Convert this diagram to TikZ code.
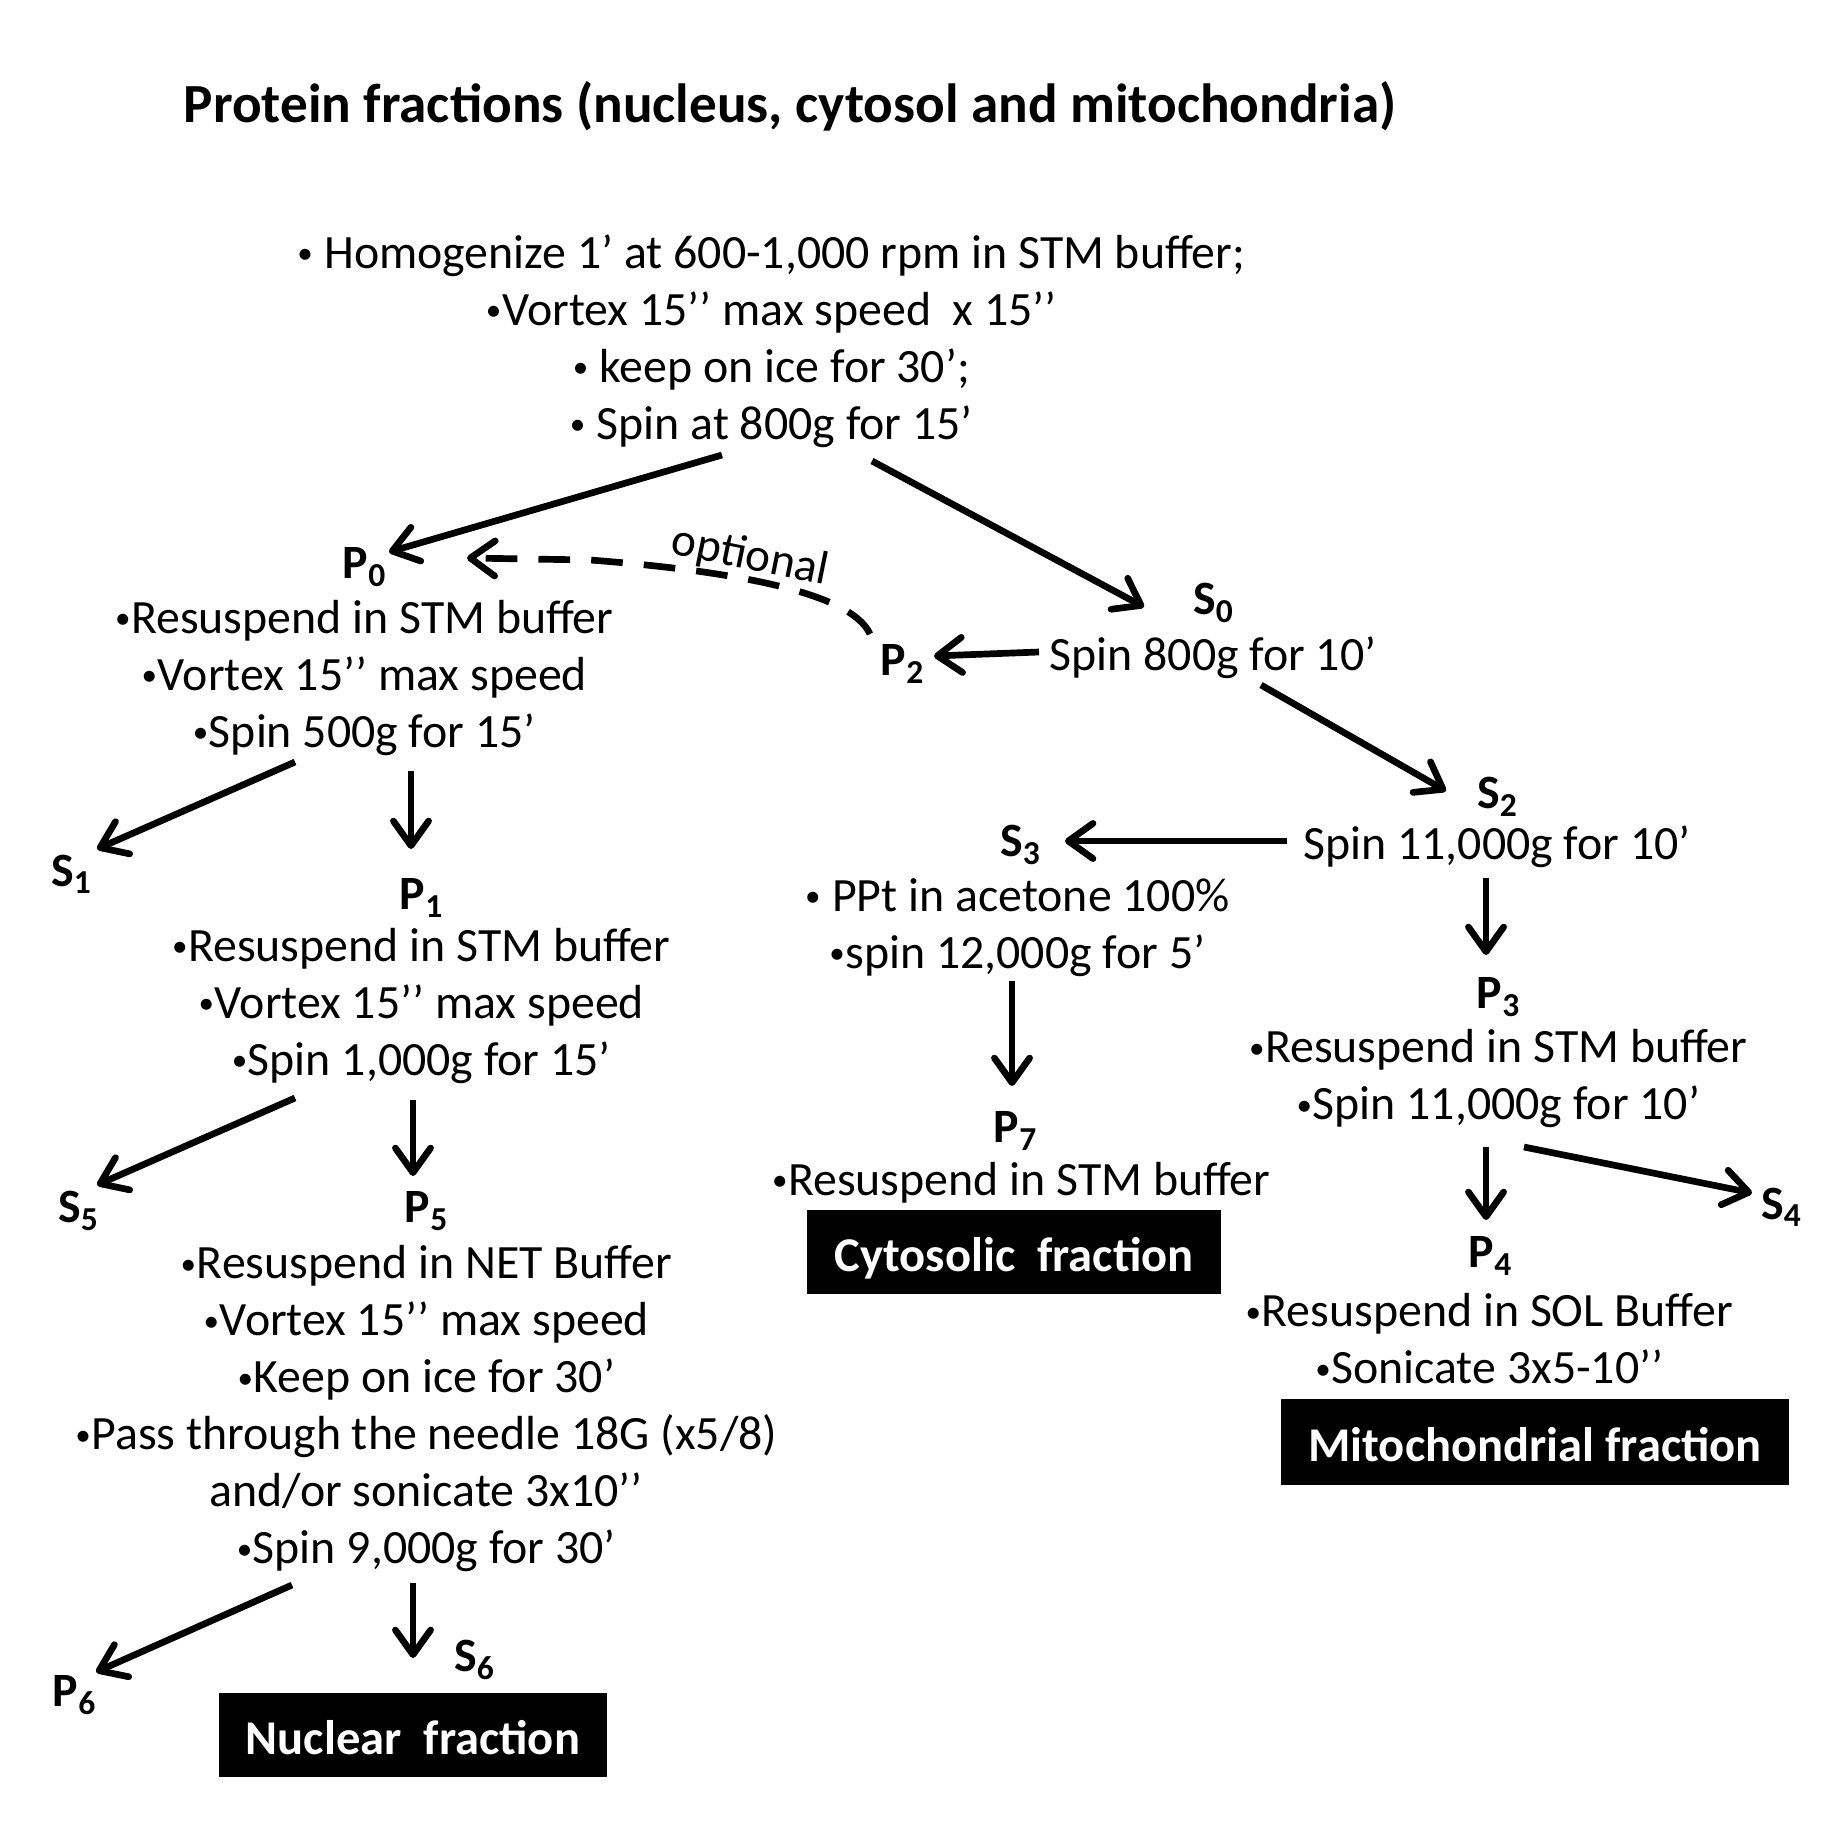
\documentclass[tikz,border=0pt]{standalone}
\usepackage{fontspec}
\usepackage{graphicx}
\setmainfont{Carlito}
\usetikzlibrary{arrows.meta}
\newcommand\mybul{\raisebox{0.1em}{\makebox[0.35em][c]{\scalebox{0.65}{•}}}}
\begin{document}
\begin{tikzpicture}[x=0.01cm,y=-0.01cm,
  txt/.style={inner sep=0pt,align=center,yshift=-1.1pt,font=\fontsize{13.6}{16.2}\selectfont},
  lbl/.style={inner sep=0pt,yshift=-0.6pt,font=\fontsize{13.6}{16.2}\selectfont\bfseries},
  fbox/.style={fill=black,text=white,inner sep=0pt,text height=10.8pt,text depth=0pt,font=\fontsize{13.8}{16}\selectfont\bfseries},
  arr/.style={line width=1.9pt,-{Straight Barb[length=7pt,width=10pt,round]}},
  darr/.style={line width=1.9pt,dash pattern=on 9pt off 6pt,-{Straight Barb[length=7pt,width=10pt,round]}}]
\useasboundingbox (0,0) rectangle (1831,1831);
\node[inner sep=0pt,yshift=-0.5pt,font=\fontsize{15.7}{18}\selectfont\bfseries] (title) at (790,105) {Protein fractions (nucleus, cytosol and mitochondria)};
% blocks
\node[txt] (A) at (771,337) {\mybul{} Homogenize 1’ at 600-1,000 rpm in STM buffer;\\\mybul Vortex 15’’ max speed\ \ x 15’’\\\mybul{} keep on ice for 30’;\\\mybul{} Spin at 800g for 15’};
\node[lbl] (P0) at (365,565) {P\textsubscript{0}};
\node[txt] (B0) at (364,674) {\mybul Resuspend in STM buffer\\\mybul Vortex 15’’ max speed\\\mybul Spin 500g for 15’};
\node[lbl] (S1) at (72,872) {S\textsubscript{1}};
\node[lbl] (P1) at (422,896) {P\textsubscript{1}};
\node[txt] (B1) at (421,1002) {\mybul Resuspend in STM buffer\\\mybul Vortex 15’’ max speed\\\mybul Spin 1,000g for 15’};
\node[lbl] (S5) at (79,1209) {S\textsubscript{5}};
\node[lbl] (P5) at (427,1209) {P\textsubscript{5}};
\node[txt] (B5) at (426,1405) {\mybul Resuspend in NET Buffer\\\mybul Vortex 15’’ max speed\\\mybul Keep on ice for 30’\\\mybul Pass through the needle 18G (x5/8)\\and/or sonicate 3x10’’\\\mybul Spin 9,000g for 30’};
\node[lbl] (P6) at (75,1693) {P\textsubscript{6}};
\node[lbl] (S6) at (475,1658) {S\textsubscript{6}};
\node[fbox,minimum width=3.87cm,minimum height=0.84cm] (NF) at (413,1735) {Nuclear\ \ fraction};
\node[lbl] (S0) at (1214,601) {S\textsubscript{0}};
\node[txt] (B0r) at (1213,654) {Spin 800g for 10’};
\node[lbl] (P2) at (903,662) {P\textsubscript{2}};
\node[lbl] (S2) at (1498,795) {S\textsubscript{2}};
\node[txt] (B2) at (1497,843) {Spin 11,000g for 10’};
\node[lbl] (S3) at (1021,843) {S\textsubscript{3}};
\node[txt] (B3) at (1017,924) {\mybul{} PPt in acetone 100\%\\\mybul spin 12,000g for 5’};
\node[lbl] (P7) at (1016,1129) {P\textsubscript{7}};
\node[txt] (B7) at (1021,1179) {\mybul Resuspend in STM buffer};
\node[fbox,minimum width=4.13cm,minimum height=0.84cm] (CF) at (1014,1252) {Cytosolic\ \ fraction};
\node[lbl] (P3) at (1499,995) {P\textsubscript{3}};
\node[txt] (B3r) at (1498,1075) {\mybul Resuspend in STM buffer\\\mybul Spin 11,000g for 10’};
\node[lbl] (S4) at (1782,1205) {S\textsubscript{4}};
\node[lbl] (P4) at (1491,1254) {P\textsubscript{4}};
\node[txt] (B4) at (1489,1335) {\mybul Resuspend in SOL Buffer\\\mybul Sonicate 3x5-10’’};
\node[fbox,minimum width=5.08cm,minimum height=0.85cm] (MF) at (1535,1442) {Mitochondrial fraction};
% connector end points
\coordinate (a1) at (722,455); \coordinate (p0e) at (389,552);
\coordinate (a2) at (872,461); \coordinate (s0e) at (1144,607);
\coordinate (p2s) at (870,634); \coordinate (p0d) at (467,558);
\coordinate (s0s) at (1039,652); \coordinate (p2e) at (934,656);
\coordinate (s0b) at (1261,685); \coordinate (s2e) at (1446,791);
\coordinate (s2s) at (1287,841); \coordinate (s3e) at (1065,841);
\coordinate (s2b) at (1486,878); \coordinate (p3e) at (1486,955);
\coordinate (s3b) at (1012,981); \coordinate (p7e) at (1012,1086);
\coordinate (p3b) at (1486,1147); \coordinate (p4e) at (1486,1220);
\coordinate (p3c) at (1524,1147); \coordinate (s4e) at (1752,1193);
\coordinate (b0a) at (295,762); \coordinate (s1e) at (97,849);
\coordinate (b0b) at (411,771); \coordinate (p1e) at (411,849);
\coordinate (b1a) at (295,1098); \coordinate (s5e) at (97,1185);
\coordinate (b1b) at (413,1100); \coordinate (p5e) at (413,1176);
\coordinate (b5a) at (292,1585); \coordinate (p6e) at (96,1672);
\coordinate (b5b) at (413,1583); \coordinate (s6e) at (413,1658);
% connectors
\draw[arr] (a1) -- (p0e);
\draw[arr] (a2) -- (s0e);
\draw[darr] (p2s) .. controls (850,590) and (720,570) .. (590,560) -- (p0d);
\node[inner sep=0pt,rotate=-11.5,font=\fontsize{13.4}{16}\selectfont] (opt) at (750,557) {optional};
\draw[arr] (s0s) -- (p2e);
\draw[arr] (s0b) -- (s2e);
\draw[arr] (s2s) -- (s3e);
\draw[arr] (s2b) -- (p3e);
\draw[arr] (s3b) -- (p7e);
\draw[arr] (p3b) -- (p4e);
\draw[arr] (p3c) -- (s4e);
\draw[arr] (b0a) -- (s1e);
\draw[arr] (b0b) -- (p1e);
\draw[arr] (b1a) -- (s5e);
\draw[arr] (b1b) -- (p5e);
\draw[arr] (b5a) -- (p6e);
\draw[arr] (b5b) -- (s6e);
\end{tikzpicture}
\end{document}
